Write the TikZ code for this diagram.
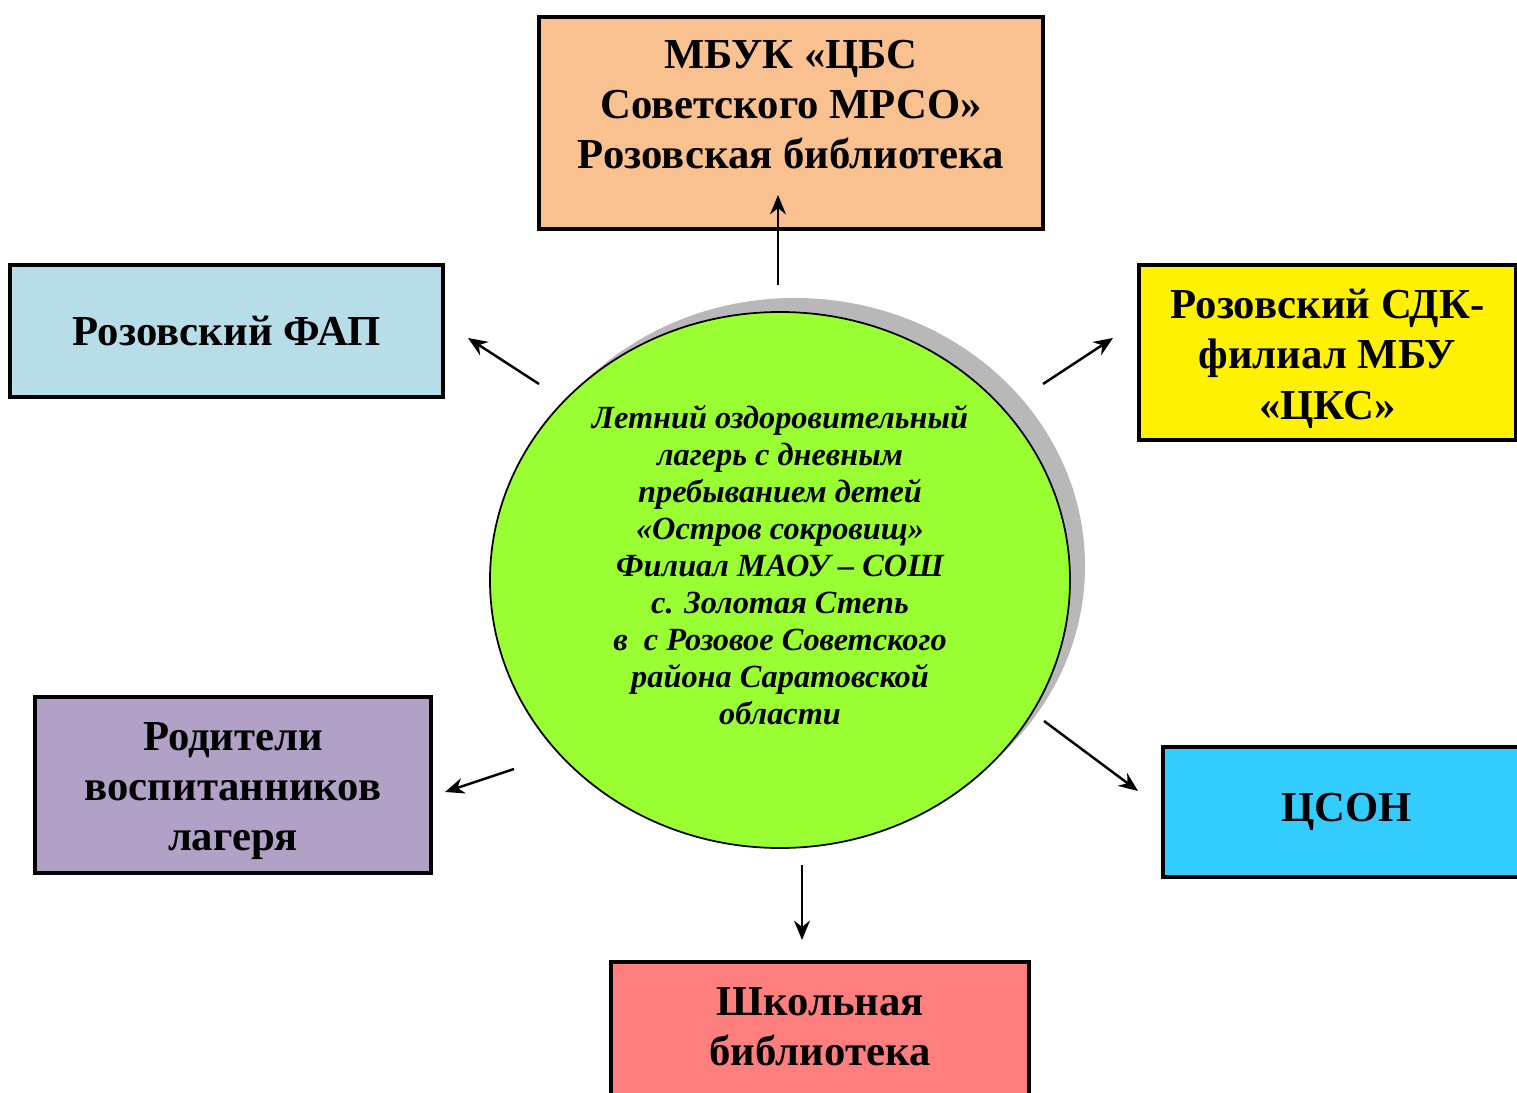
\documentclass[tikz,border=0pt]{standalone}
\usepackage{fontspec}
\setmainfont{Liberation Serif}
\usetikzlibrary{shapes.geometric,arrows.meta}
\definecolor{peach}{HTML}{F9C090}
\definecolor{fapblue}{HTML}{B7DDE8}
\definecolor{lilac}{HTML}{B2A1C7}
\definecolor{csonblue}{HTML}{33CCFF}
\definecolor{schoolred}{HTML}{FF7F7F}
\definecolor{campgreen}{HTML}{99FF33}
\definecolor{shadowgray}{HTML}{B8B8B8}
\tikzset{
  partner/.style={draw, line width=2pt, align=center, inner sep=0pt,
    font=\fontsize{24.3}{28.5}\selectfont\bfseries},
  link/.style={line width=1.4pt, -{Stealth[length=11pt,width=9pt]}}
}
\def\campshadow{(15.9,-11.32) ellipse (5.8cm and 5.36cm)}

\begin{document}
\begin{tikzpicture}
                  \useasboundingbox (0,0) rectangle (30.34,-21.86);
                  \fill[shadowgray] \campshadow;
                  \node[ellipse, draw, line width=1pt, fill=campgreen, minimum width=11.6cm, minimum height=10.72cm] (camp) at (15.6,-11.6) {};
                  \node[align=center, font=\fontsize{18.4}{21}\selectfont\bfseries\itshape] (camptext) at (15.6,-11.30)
                    {Летний оздоровительный\\лагерь с дневным\\пребыванием детей\\«Остров сокровищ»\\ Филиал МАОУ – СОШ\\с. Золотая Степь\\в\ \ с Розовое Советского\\района Саратовской\\области};
                  \node[partner, fill=peach, minimum width=10.08cm, minimum height=4.24cm] (mbuk) at (15.82,-2.46)
                    {МБУК «ЦБС\\Советского МРСО»\\Розовская библиотека\\[-7pt]};
                  \node[partner, fill=fapblue, minimum width=8.66cm, minimum height=2.64cm] (fap) at (4.53,-6.62) {Розовский ФАП};
                  \node[partner, fill=yellow, minimum width=7.54cm, minimum height=3.5cm] (sdk) at (26.55,-7.05)
                    {Розовский СДК-\\филиал МБУ\\«ЦКС»\\[-30.5pt]};
                  \node[partner, fill=lilac, minimum width=7.92cm, minimum height=3.52cm] (parents) at (4.66,-15.70)
                    {Родители\\воспитанников\\лагеря\\[-30.5pt]};
                  \node[partner, fill=csonblue, minimum width=7.34cm, minimum height=2.6cm, text width=7.1cm] (cson) at (26.93,-16.24) {ЦСОН};
                  \node[partner, fill=schoolred, minimum width=8.36cm, minimum height=2.8cm] (school) at (16.4,-20.64)
                    {Школьная\\библиотека\\[-22pt]};
                  % arrow ends
                  \coordinate (fromMbuk) at (15.56,-5.7);    \coordinate (toMbuk) at (15.56,-3.9);
                  \coordinate (fromFap) at (10.78,-7.68);    \coordinate (toFap) at (9.36,-6.76);
                  \coordinate (fromSdk) at (20.86,-7.68);    \coordinate (toSdk) at (22.26,-6.76);
                  \coordinate (fromParents) at (10.28,-15.38); \coordinate (toParents) at (8.9,-15.84);
                  \coordinate (fromCson) at (20.88,-14.42);  \coordinate (toCson) at (22.76,-15.82);
                  \coordinate (fromSchool) at (16.04,-17.3); \coordinate (toSchool) at (16.04,-18.8);
                  \foreach \n in {Mbuk,Fap,Sdk,Parents,Cson,School}
                    \draw[link] (from\n) -- (to\n);
                \end{tikzpicture}
\end{document}
